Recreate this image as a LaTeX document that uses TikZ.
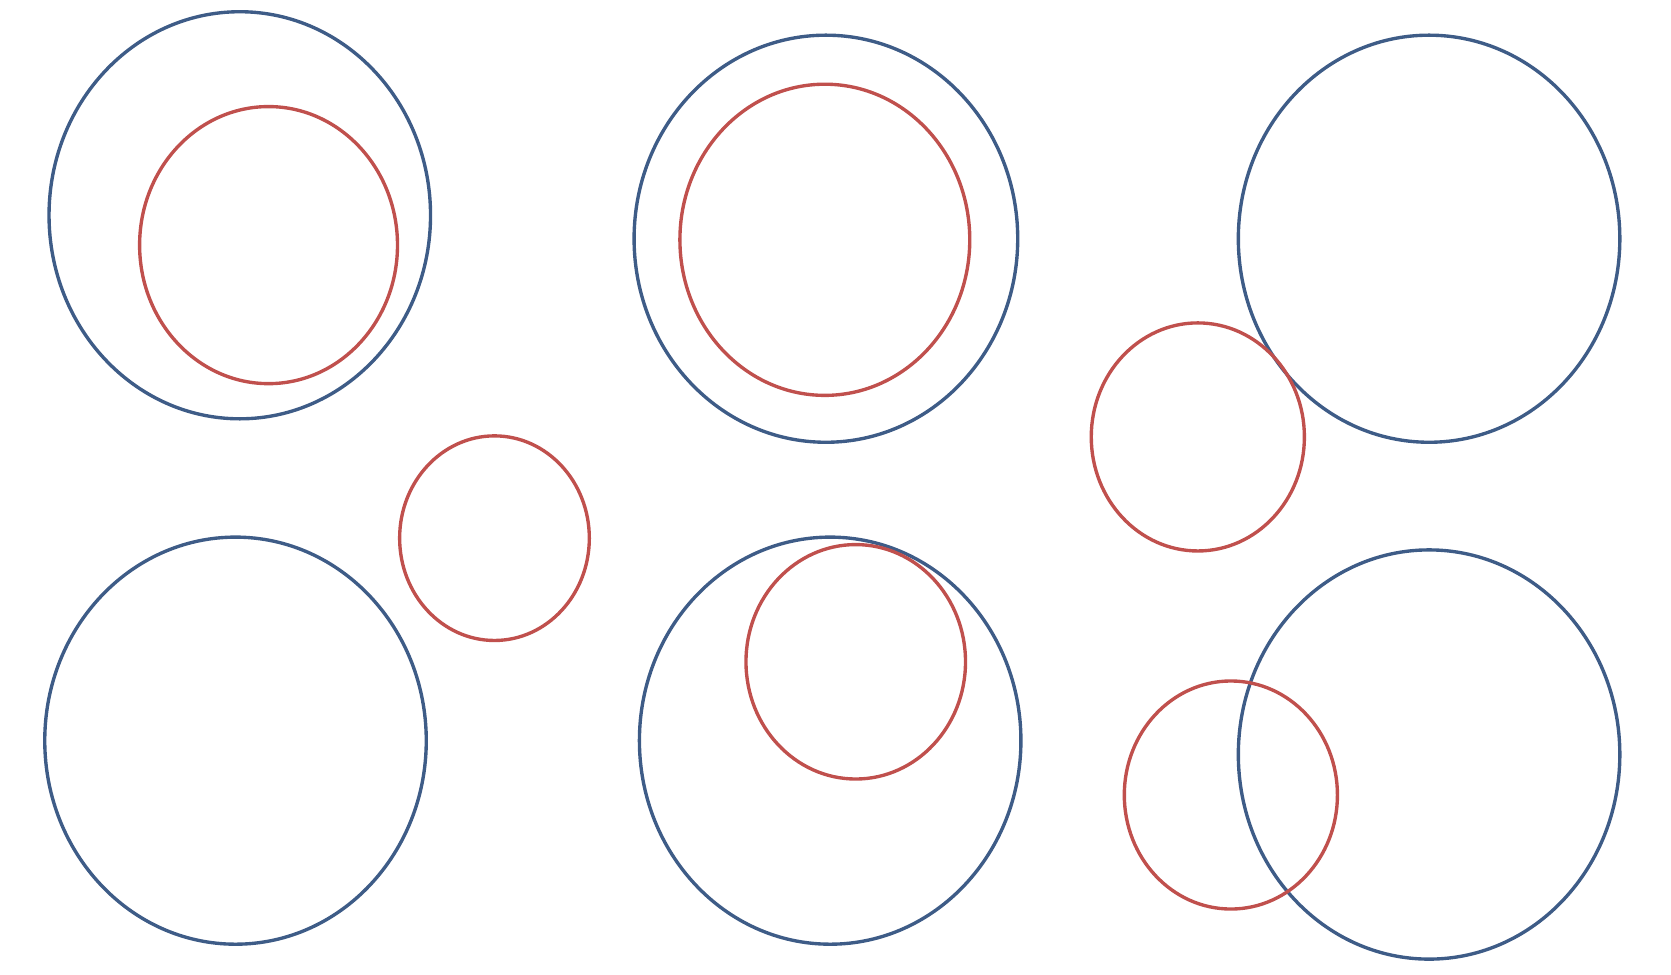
\documentclass[tikz,border=0pt]{standalone}
\usepackage{xcolor}
\definecolor{ringblue}{RGB}{62,92,135}
\definecolor{ringred}{RGB}{192,80,77}
\tikzset{bluering/.style={draw=ringblue,line width=0.9pt},
         redring/.style={draw=ringred,line width=0.9pt}}
\begin{document}
\begin{tikzpicture}[x=0.1mm,y=-0.1mm]
    \useasboundingbox (0,0) rectangle (1568,914);
    \draw [bluering] (225,202) ellipse [x radius=179, y radius=191];
    \draw [redring] (252,230) ellipse [x radius=121, y radius=130];
    \draw [bluering] (775,224) ellipse [x radius=180, y radius=191];
    \draw [redring] (774,225) ellipse [x radius=136, y radius=146];
    \draw [bluering] (1341,224) ellipse [x radius=179, y radius=191];
    \draw [redring] (1124,410) ellipse [x radius=100, y radius=107];
    \draw [bluering] (221,695) ellipse [x radius=179, y radius=191];
    \draw [redring] (464,505) ellipse [x radius=89, y radius=96];
    \draw [bluering] (779,695) ellipse [x radius=179, y radius=191];
    \draw [redring] (803,621) ellipse [x radius=103, y radius=110];
    \draw [bluering] (1341,708) ellipse [x radius=179, y radius=192];
    \draw [redring] (1155,746) ellipse [x radius=100, y radius=107];
\end{tikzpicture}
\end{document}
